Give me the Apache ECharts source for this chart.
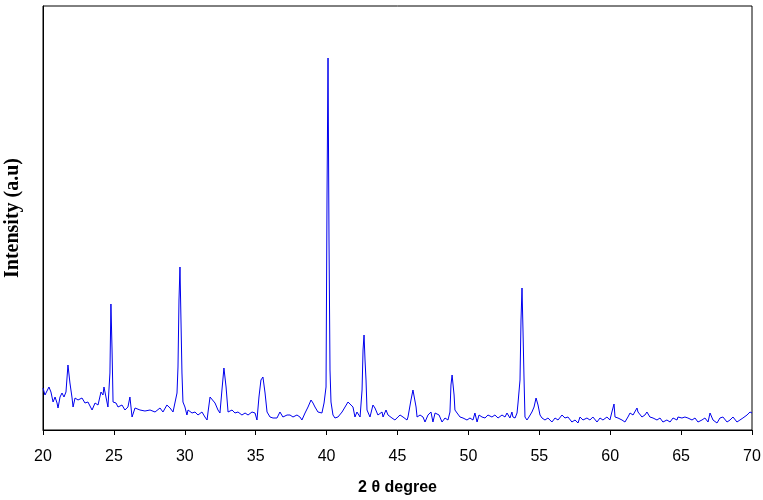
<!DOCTYPE html>
<html><head><meta charset="utf-8">
<script src="https://cdn.jsdelivr.net/npm/echarts@6/dist/echarts.min.js"></script>
<style>html,body{margin:0;padding:0;background:#fff}#c{width:763px;height:500px}</style>
</head><body><div id="c"></div>
<script>
const twoTheta = [20.00,20.14,20.28,20.42,20.56,20.71,20.85,20.99,21.06,21.20,21.34,21.48,21.62,21.76,21.90,22.05,22.12,22.26,22.47,22.75,22.96,23.17,23.46,23.67,23.88,24.09,24.23,24.30,24.44,24.58,24.72,24.79,24.87,24.94,25.15,25.29,25.57,25.78,25.99,26.13,26.28,26.49,26.84,27.19,27.55,27.90,28.25,28.46,28.74,28.96,29.17,29.45,29.52,29.59,29.66,29.73,29.80,29.87,30.01,30.15,30.23,30.51,30.72,30.93,31.21,31.42,31.57,31.64,31.78,31.92,32.13,32.34,32.48,32.62,32.76,32.91,33.05,33.33,33.54,33.75,34.03,34.25,34.46,34.74,34.95,35.09,35.23,35.37,35.51,35.66,35.80,36.01,36.22,36.50,36.71,36.92,37.21,37.42,37.63,37.91,38.12,38.26,38.48,38.69,38.90,39.04,39.18,39.39,39.67,39.82,39.96,40.03,40.10,40.17,40.24,40.31,40.45,40.59,40.80,41.09,41.30,41.51,41.65,41.86,42.00,42.14,42.36,42.50,42.57,42.64,42.71,42.78,42.85,43.06,43.27,43.41,43.62,43.91,43.98,44.19,44.33,44.61,44.82,45.03,45.18,45.39,45.67,45.74,45.95,46.09,46.16,46.31,46.38,46.59,46.80,46.94,47.15,47.36,47.50,47.65,47.79,47.93,48.14,48.35,48.56,48.70,48.77,48.85,48.92,48.99,49.05,49.20,49.41,49.62,49.90,50.11,50.32,50.46,50.61,50.75,50.96,51.17,51.38,51.66,51.87,52.09,52.37,52.58,52.72,52.93,53.07,53.14,53.29,53.43,53.50,53.64,53.71,53.78,53.85,53.92,53.99,54.13,54.27,54.48,54.63,54.77,54.91,55.05,55.19,55.40,55.61,55.89,56.11,56.32,56.60,56.81,57.02,57.30,57.52,57.73,57.87,58.08,58.36,58.57,58.78,59.07,59.28,59.49,59.77,59.98,60.12,60.27,60.34,60.55,60.83,61.04,61.25,61.40,61.61,61.89,61.96,62.24,62.45,62.59,62.80,63.02,63.30,63.51,63.72,64.00,64.22,64.43,64.71,64.78,65.06,65.27,65.48,65.77,65.98,66.19,66.47,66.68,66.90,67.04,67.25,67.53,67.74,67.95,68.24,68.45,68.66,68.94,69.15,69.36,69.65,69.86,70.00];
const intensity = [42,35,37,43,38,28,33,27,22,33,37,33,38,65,47,32,23,32,30,32,27,28,20,27,25,38,35,43,45,23,57,126,80,28,27,23,25,20,23,33,13,22,20,19,20,18,22,18,25,22,18,37,63,130,163,110,57,28,23,15,20,17,18,15,18,13,10,18,33,33,27,20,17,40,62,43,18,20,17,18,15,17,15,18,17,10,33,50,53,37,18,13,12,12,18,13,15,15,13,15,13,10,17,23,30,27,23,18,17,27,43,235,372,190,60,28,15,12,13,18,23,28,29,23,13,18,13,40,80,95,70,50,20,13,25,22,15,18,13,20,15,12,10,13,15,13,10,13,30,40,40,23,13,15,13,8,15,18,8,17,18,15,8,12,10,18,45,55,53,35,20,17,13,12,10,12,10,17,8,15,13,12,15,13,15,12,15,13,17,12,18,13,12,17,27,50,110,142,100,53,13,10,13,18,23,32,25,15,12,10,12,8,12,10,15,12,13,8,10,7,13,10,12,10,13,8,12,10,13,10,18,26,13,12,10,8,13,17,15,22,18,13,15,18,13,12,10,12,8,10,8,12,10,13,12,13,12,10,12,8,10,12,8,17,10,7,12,13,8,10,13,8,10,12,15,18,17];
const xTicks = {min: 20, max: 70, step: 5};

const data = twoTheta.map((t, i) => [t, intensity[i]]);
const chart = echarts.init(document.getElementById('c'), null, {renderer: 'canvas'});
chart.setOption({
  animation: false,
  backgroundColor: '#ffffff',
  grid: {left: 43, right: 11, top: 6, bottom: 70, show: true, borderColor: '#000', borderWidth: 1, containLabel: false, outerBoundsMode: 'none'},
  xAxis: {
    type: 'value', min: xTicks.min, max: xTicks.max, interval: xTicks.step,
    name: '2 θ degree', nameLocation: 'middle', nameGap: 50,
    nameTextStyle: {fontFamily: 'Liberation Sans, Arial', fontWeight: 'bold', fontSize: 16, color: '#000'},
    axisLine: {lineStyle: {color: '#000', width: 1}},
    axisTick: {inside: false, length: 5, lineStyle: {color: '#000'}},
    axisLabel: {fontFamily: 'Liberation Sans, Arial', fontSize: 16, color: '#000', margin: 19},
    splitLine: {show: false}
  },
  yAxis: {
    type: 'value', min: 0, max: 424,
    name: 'Intensity (a.u)', nameLocation: 'middle', nameGap: 20, nameRotate: 90,
    nameTextStyle: {fontFamily: 'Liberation Serif, Times New Roman', fontWeight: 'bold', fontSize: 20, color: '#000'},
    axisLine: {show: true, lineStyle: {color: '#000'}},
    axisTick: {show: false},
    axisLabel: {show: false},
    splitLine: {show: false}
  },
  series: [{
    type: 'line', data: data, showSymbol: false, symbol: 'none',
    lineStyle: {color: '#0000ee', width: 1}, itemStyle: {color: '#0000ee'}
  }]
});
</script></body></html>
